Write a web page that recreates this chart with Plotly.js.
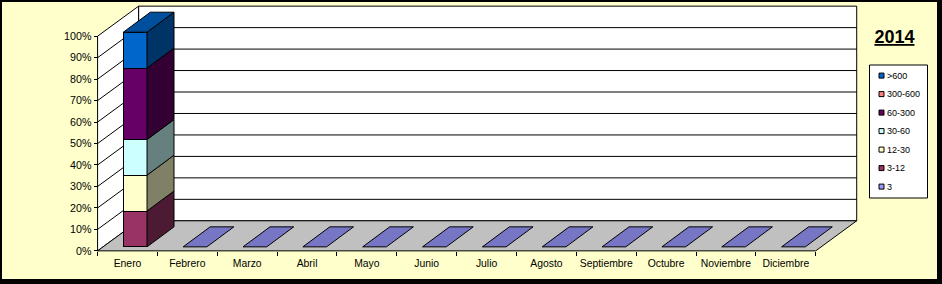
<!DOCTYPE html>
<html><head><meta charset="utf-8">
<script src="https://cdn.plot.ly/plotly-3.0.1.min.js"></script>
<style>
html,body{margin:0;padding:0;background:#fff;}
#wrap{width:942px;height:284px;box-sizing:border-box;border-left:2px solid #000;border-top:2px solid #000;border-right:5px solid #000;border-bottom:5px solid #000;background:#FFFFCC;overflow:hidden;}
#chart{width:935px;height:277px;}
</style></head><body><div id="wrap"><div id="chart"></div></div>
<script>
// ---- data ----
const months = ['Enero','Febrero','Marzo','Abril','Mayo','Junio','Julio','Agosto','Septiembre','Octubre','Noviembre','Diciembre'];
const seriesNames = ['3','3-12','12-30','30-60','60-300','300-600','>600'];
const seriesColors = ['#9999FF','#993366','#FFFFCC','#CCFFFF','#660066','#FF8080','#0066CC'];
const v3      = [0,0,0,0,0,0,0,0,0,0,0,0];
const v3_12   = [16.7,0,0,0,0,0,0,0,0,0,0,0];
const v12_30  = [16.7,0,0,0,0,0,0,0,0,0,0,0];
const v30_60  = [16.6,0,0,0,0,0,0,0,0,0,0,0];
const v60_300 = [33.3,0,0,0,0,0,0,0,0,0,0,0];
const v300_600= [0,0,0,0,0,0,0,0,0,0,0,0];
const v600    = [16.7,0,0,0,0,0,0,0,0,0,0,0];
const yTicks = [0,10,20,30,40,50,60,70,80,90,100];
const yTickLabels = ['0%','10%','20%','30%','40%','50%','60%','70%','80%','90%','100%'];
const chartTitle = '2014';

const seriesValues = [v3, v3_12, v12_30, v30_60, v60_300, v300_600, v600];

// ---- 3D look geometry (axis units) ----
const FLOOR_DX = 0.685, FLOOR_DY = 14;     // wall / floor depth
const BAR_OFF = -0.07, BAR_W = 0.396;      // front face of bars
const BAR_DX = 0.451, BAR_DY = 9.32;       // bar depth
const FONT = 'Arial, "Liberation Sans", sans-serif';

function shade(hex, f){
  const n = parseInt(hex.slice(1),16);
  const r = Math.round(((n>>16)&255)*f), g = Math.round(((n>>8)&255)*f), b = Math.round((n&255)*f);
  return '#' + [r,g,b].map(c=>c.toString(16).padStart(2,'0')).join('');
}

const traces = seriesNames.map((name,j)=>({
  type:'bar', name:name, x:months,
  y:seriesValues[j].map(v=>v===0?null:v),
  yaxis:'y2', offset:BAR_OFF, width:BAR_W,
  marker:{color:seriesColors[j], line:{color:'#000', width:1}},
  showlegend:false, hoverinfo:'skip'
}));

const shapes = [];
const L = -0.5, R = 11.5;
// back wall
shapes.push({type:'rect', layer:'below', xref:'x', yref:'y', x0:L+FLOOR_DX, x1:R+FLOOR_DX, y0:FLOOR_DY, y1:100+FLOOR_DY,
  fillcolor:'#FFFFFF', line:{color:'#000', width:1}});
// left wall
shapes.push({type:'path', layer:'below', xref:'x', yref:'y',
  path:`M${L},0 L${L+FLOOR_DX},${FLOOR_DY} L${L+FLOOR_DX},${100+FLOOR_DY} L${L},100 Z`,
  fillcolor:'#FFFFFF', line:{color:'#000', width:1}});
// gridlines
yTicks.forEach(t=>{
  if(t===0||t===100) return;
  shapes.push({type:'line', layer:'below', xref:'x', yref:'y', x0:L+FLOOR_DX, x1:R+FLOOR_DX, y0:t+FLOOR_DY, y1:t+FLOOR_DY, line:{color:'#000', width:1}});
  shapes.push({type:'line', layer:'below', xref:'x', yref:'y', x0:L, x1:L+FLOOR_DX, y0:t, y1:t+FLOOR_DY, line:{color:'#000', width:1}});
});
// floor
shapes.push({type:'path', layer:'below', xref:'x', yref:'y',
  path:`M${L},0 L${R},0 L${R+FLOOR_DX},${FLOOR_DY} L${L+FLOOR_DX},${FLOOR_DY} Z`,
  fillcolor:'#C0C0C0', line:{color:'#000', width:1}});

// bar side and top faces
months.forEach((m,i)=>{
  const xl = i + BAR_OFF, xr = i + BAR_OFF + BAR_W;
  let cum = 0, topIdx = -1;
  seriesValues.forEach((vals,j)=>{
    const v = vals[i];
    if(v>0){
      const b = cum, t = cum + v;
      shapes.push({type:'path', layer:'above', xref:'x', yref:'y2',
        path:`M${xr},${b} L${xr},${t} L${xr+BAR_DX},${t+BAR_DY} L${xr+BAR_DX},${b+BAR_DY} Z`,
        fillcolor:shade(seriesColors[j],0.5), line:{color:'#000', width:1}});
      cum = t; topIdx = j;
    }
  });
  const topColor = shade(seriesColors[topIdx<0?0:topIdx], 0.77);
  shapes.push({type:'path', layer:'above', xref:'x', yref:'y2',
    path:`M${xl},${cum} L${xr},${cum} L${xr+BAR_DX},${cum+BAR_DY} L${xl+BAR_DX},${cum+BAR_DY} Z`,
    fillcolor:topColor, line:{color:'#000', width:1}});
});

// manual legend (page pixel -> paper)
const PL = 94, PW = 766, PB = 253, PH = 249;
const px = X => (X - PL)/PW, py = Y => (PB - Y)/PH;
shapes.push({type:'rect', xref:'paper', yref:'paper', x0:px(869.5), x1:px(927.5), y0:py(198), y1:py(65),
  fillcolor:'#FFFFFF', line:{color:'#000', width:1}});
const annotations = [];
const order = seriesNames.map((n,j)=>j).reverse();
order.forEach((j,k)=>{
  const cy = 75.6 + k*18.5;
  shapes.push({type:'rect', xref:'paper', yref:'paper', x0:px(879), x1:px(884), y0:py(cy+2.5), y1:py(cy-2.5),
    fillcolor:seriesColors[j], line:{color:'#000', width:1}});
  annotations.push({xref:'paper', yref:'paper', x:px(885.5), y:py(cy), xanchor:'left', yanchor:'middle',
    text:seriesNames[j], showarrow:false, font:{family:FONT, size:9, color:'#000'}});
});

const layout = {
  width:935, height:277, autosize:false,
  margin:{l:92, r:77, t:2, b:26, pad:0},
  paper_bgcolor:'#FFFFCC', plot_bgcolor:'#FFFFCC',
  barmode:'stack', showlegend:false, hovermode:false,
  title:{text:chartTitle, xref:'container', yref:'container', x:0.9545, y:0.8747, xanchor:'center', yanchor:'middle',
    font:{family:FONT, size:18, weight:'bold', color:'#000', lineposition:'under'}},
  xaxis:{type:'category', range:[-0.56, 12.24], anchor:'free', position:1/116,
    showline:false, showgrid:false, zeroline:false, ticks:'outside', ticklen:4, tickcolor:'#000', tickwidth:1,
    tickson:'boundaries', tickangle:0, tickfont:{family:FONT, size:10.4, color:'#000'}, ticklabelstandoff:5, fixedrange:true},
  yaxis:{range:[-1,115], anchor:'free', position:0.06/12.8, tickmode:'array', tickvals:yTicks, ticktext:yTickLabels,
    showline:false, showgrid:false, zeroline:false, ticks:'outside', ticklen:4, tickcolor:'#000', tickwidth:1,
    tickfont:{family:FONT, size:10.7, color:'#000'}, fixedrange:true},
  yaxis2:{range:[-1-1.863, 115-1.863], overlaying:'y', anchor:'x', visible:false, fixedrange:true},
  shapes:shapes, annotations:annotations
};

Plotly.newPlot('chart', traces, layout, {displayModeBar:false, staticPlot:true});
</script>
</body></html>
